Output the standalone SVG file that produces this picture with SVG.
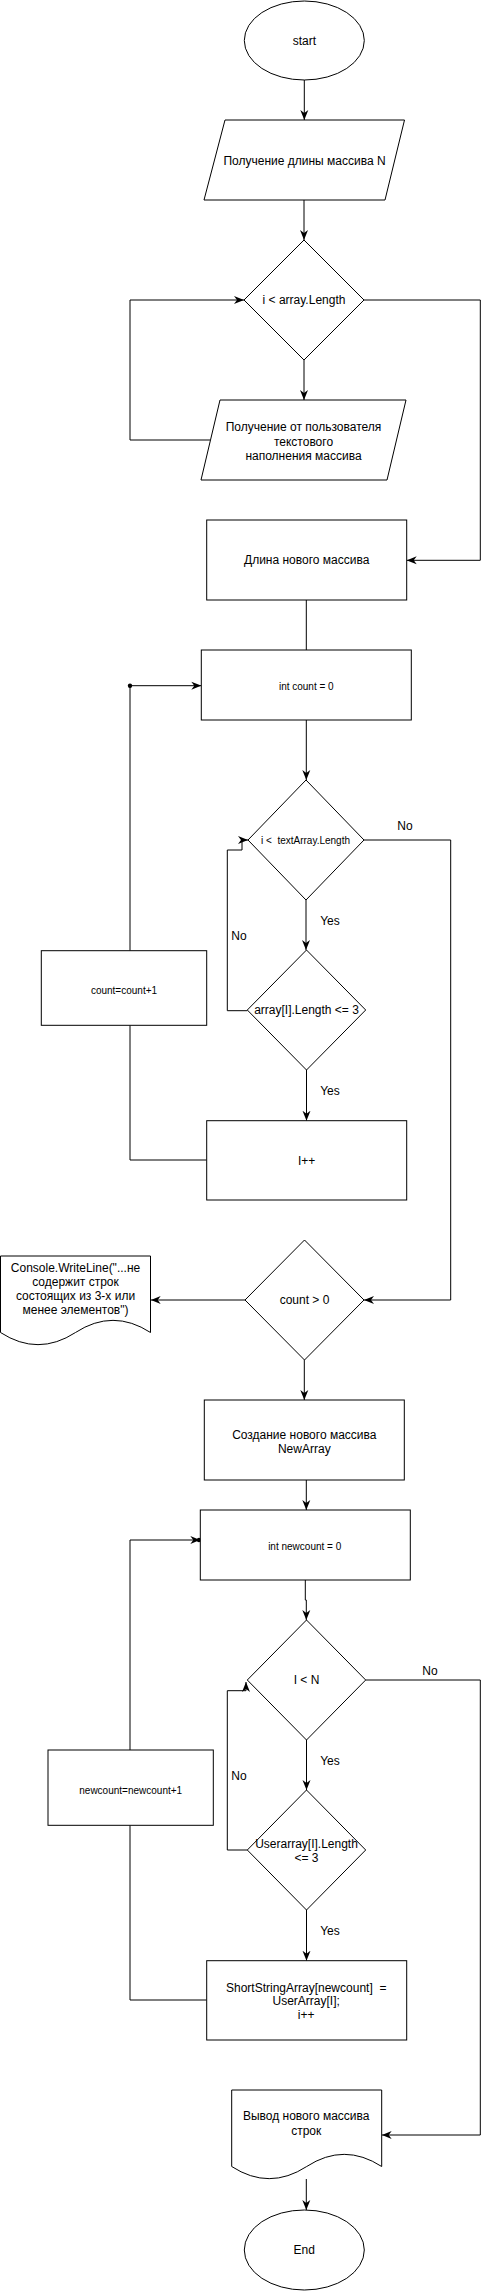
<svg xmlns="http://www.w3.org/2000/svg" width="489" height="2291" viewBox="0 0 489 2291">
<style>
.s{fill:#fff;stroke:#000;stroke-width:1}
.c{fill:none;stroke:#000;stroke-width:1}
text{font-family:"Liberation Sans",Arial,Helvetica,sans-serif;font-size:12px;fill:#000;text-anchor:middle}
.sm{font-size:10px}
</style>
<defs>
<marker id="arr" markerUnits="userSpaceOnUse" markerWidth="10" markerHeight="10" viewBox="0 0 10 10" refX="10" refY="5" orient="auto">
<path d="M0,1 L10,5 L0,9 L3,5 Z" fill="#000"/>
</marker>
</defs>
<rect width="489" height="2291" fill="#fff"/>
<g id="connectors">
<path class="c" d="M304.3,80 V120" marker-end="url(#arr)"/>
<path class="c" d="M304,200 V240" marker-end="url(#arr)"/>
<path class="c" d="M304,360 V400" marker-end="url(#arr)"/>
<path class="c" d="M210,440 H130 V300 H244" marker-end="url(#arr)"/>
<path class="c" d="M364,300 H480.3 V560.3 H406.7" marker-end="url(#arr)"/>
<path class="c" d="M306.3,600 V650"/>
<path class="c" d="M130,950.7 V685.7 H201.3" marker-end="url(#arr)"/>
<circle cx="130" cy="685.7" r="2.2" fill="#000"/>
<path class="c" d="M306.3,720 V780" marker-end="url(#arr)"/>
<path class="c" d="M306,900 V950" marker-end="url(#arr)"/>
<path class="c" d="M247.3,1010.7 H227.3 V850 H242 V840 H248" marker-end="url(#arr)"/>
<path class="c" d="M364,840 H450.7 V1300 H364" marker-end="url(#arr)"/>
<path class="c" d="M306.5,1070 V1120.7" marker-end="url(#arr)"/>
<path class="c" d="M206.7,1160 H130 V1025.3"/>
<path class="c" d="M245,1300 H150.7" marker-end="url(#arr)"/>
<path class="c" d="M304.3,1360 V1400" marker-end="url(#arr)"/>
<path class="c" d="M306.3,1480 V1510" marker-end="url(#arr)"/>
<path class="c" d="M305.3,1580 V1600 H306.3 V1620" marker-end="url(#arr)"/>
<path class="c" d="M306.5,1740 V1790" marker-end="url(#arr)"/>
<path class="c" d="M247.3,1850 H227.3 V1690.7 H246 V1682" marker-end="url(#arr)"/>
<path class="c" d="M365.7,1680 H480.3 V2135 H381.7" marker-end="url(#arr)"/>
<path class="c" d="M306.5,1910 V1960.7" marker-end="url(#arr)"/>
<path class="c" d="M206.7,2000 H130 V1825.3"/>
<path class="c" d="M130,1750 V1540 H200.3" marker-end="url(#arr)"/>
<circle cx="199" cy="1540" r="2.2" fill="#000"/>
<path class="c" d="M306.3,2179 V2210" marker-end="url(#arr)"/>
<text x="405" y="830">No</text>
<text x="330" y="925">Yes</text>
<text x="239" y="940">No</text>
<text x="330" y="1095">Yes</text>
<text x="430" y="1675">No</text>
<text x="239" y="1780">No</text>
<text x="330" y="1765">Yes</text>
<text x="330" y="1935">Yes</text>
</g>
<g id="start"><ellipse class="s" cx="304.3" cy="40.5" rx="60" ry="39.5"/><text x="304.3" y="45">start</text></g>
<g id="input-n"><polygon class="s" points="225,120 404.5,120 385,200 204,200"/><text x="304.5" y="165">Получение длины массива N</text></g>
<g id="cond-array"><polygon class="s" points="304,240 364,300 304,360 244,300"/><text x="304" y="304">i &lt; array.Length</text></g>
<g id="input-fill"><polygon class="s" points="220,400 406,400 387,480 201,480"/><text x="303.5" y="431">Получение от пользователя</text><text x="303.5" y="446">текстового</text><text x="303.5" y="460">наполнения массива</text></g>
<g id="new-length"><rect class="s" x="206.7" y="520" width="200" height="80"/><text x="306.7" y="564">Длина нового массива</text></g>
<g id="count-init"><rect class="s" x="201.3" y="650" width="210" height="70"/><text class="sm" x="306.3" y="690.3">int count = 0</text></g>
<g id="cond-text"><polygon class="s" points="306,780 364,840 306,900 248,840"/><text class="sm" x="305.5" y="844" xml:space="preserve">i &lt;  textArray.Length</text></g>
<g id="cond-len"><polygon class="s" points="306.5,950 365.7,1010 306.5,1070 247.3,1010"/><text x="306.5" y="1014.3">array[I].Length &lt;= 3</text></g>
<g id="count-inc"><rect class="s" x="41.3" y="950.7" width="165.4" height="74.6"/><text class="sm" x="124" y="993.6">count=count+1</text></g>
<g id="i-inc"><rect class="s" x="206.7" y="1120.7" width="200" height="79.3"/><text x="306.7" y="1165">I++</text></g>
<g id="cond-count"><polygon class="s" points="304.5,1240 364,1300 304.5,1360 245,1300"/><text x="304.5" y="1304.3">count &gt; 0</text></g>
<g id="msg-doc"><path class="s" d="M0.5,1256 H150.5 V1332.5 Q113,1308.2 75.5,1332.5 Q38,1356.8 0.5,1332.5 Z"/><text x="75.5" y="1272">Console.WriteLine("...не</text><text x="75.5" y="1286">содержит строк</text><text x="75.5" y="1300">состоящих из 3-х или</text><text x="75.5" y="1314">менее элементов")</text></g>
<g id="create-array"><rect class="s" x="204.3" y="1400" width="200" height="80"/><text x="304.3" y="1438.6">Создание нового массива</text><text x="304.3" y="1452.6">NewArray</text></g>
<g id="newcount-init"><rect class="s" x="200.3" y="1510" width="210" height="70"/><text class="sm" x="304.7" y="1550.3">int newcount = 0</text></g>
<g id="cond-n"><polygon class="s" points="306.5,1620 365.7,1680 306.5,1740 247.3,1680"/><text x="306.5" y="1684.3">I &lt; N</text></g>
<g id="cond-user"><polygon class="s" points="306.5,1790 365.7,1850 306.5,1910 247.3,1850"/><text x="306.5" y="1848.3">Userarray[I].Length</text><text x="306.5" y="1862">&lt;= 3</text></g>
<g id="newcount-inc"><rect class="s" x="48" y="1750" width="165.3" height="75.3"/><text class="sm" x="130.7" y="1793.6">newcount=newcount+1</text></g>
<g id="assign"><rect class="s" x="206.7" y="1960.7" width="200" height="79.3"/><text x="306.2" y="1991.6" xml:space="preserve">ShortStringArray[newcount]  =</text><text x="306.2" y="2005.3">UserArray[I];</text><text x="306.2" y="2019.3">i++</text></g>
<g id="out-doc"><path class="s" d="M231.7,2090 H381.7 V2166.5 Q344.2,2142.2 306.7,2166.5 Q269.2,2190.8 231.7,2166.5 Z"/><text x="306.2" y="2120.3">Вывод нового массива</text><text x="306.2" y="2135">строк</text></g>
<g id="end"><ellipse class="s" cx="304.3" cy="2250" rx="60" ry="40"/><text x="304.3" y="2254.3">End</text></g>
</svg>
